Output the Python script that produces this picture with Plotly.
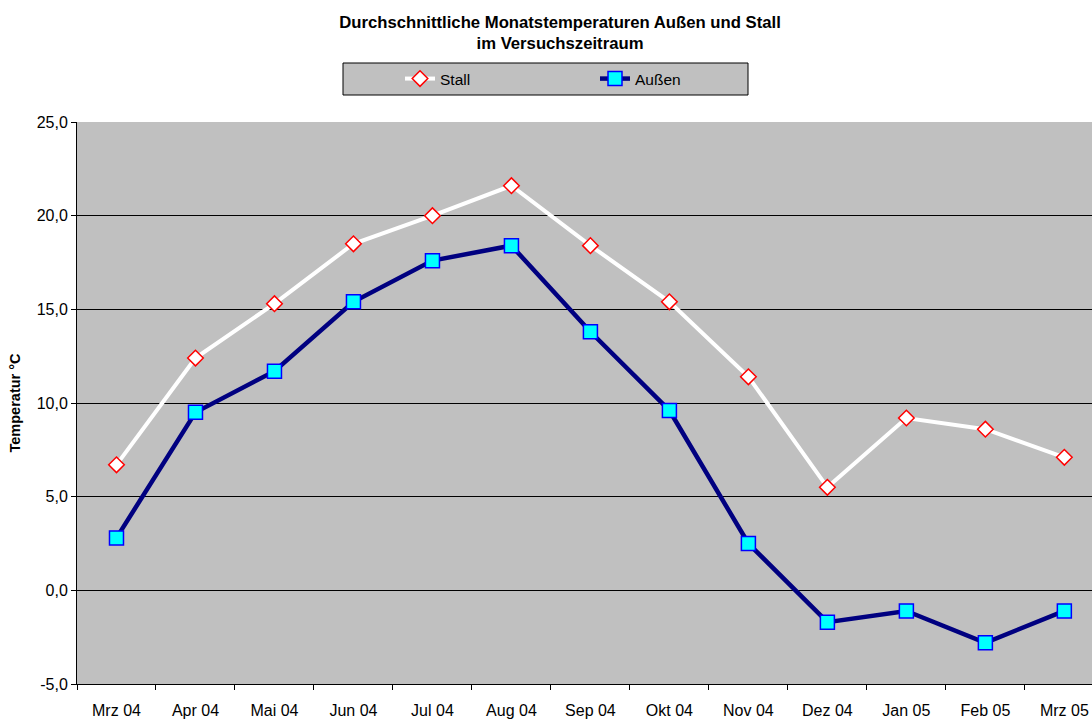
import plotly.graph_objects as go

months = ["Mrz 04", "Apr 04", "Mai 04", "Jun 04", "Jul 04", "Aug 04", "Sep 04",
          "Okt 04", "Nov 04", "Dez 04", "Jan 05", "Feb 05", "Mrz 05"]
stall = [6.7, 12.4, 15.3, 18.5, 20.0, 21.6, 18.4, 15.4, 11.4, 5.5, 9.2, 8.6, 7.1]
aussen = [2.8, 9.5, 11.7, 15.4, 17.6, 18.4, 13.8, 9.6, 2.5, -1.7, -1.1, -2.8, -1.1]
y_ticks = [-5, 0, 5, 10, 15, 20, 25]
y_labels = ["-5,0", "0,0", "5,0", "10,0", "15,0", "20,0", "25,0"]

W, H = 1092, 719
L, T, B = 77, 122, 35
PW, PH = W - L, H - T - B


def px_x(p):
    return (p - L) / PW


def px_y(p):
    return (H - B - p) / PH


FONT = "Arial, Liberation Sans, sans-serif"

fig = go.Figure()
fig.add_trace(go.Scatter(
    x=months, y=stall, name="Stall", mode="lines+markers",
    line=dict(color="white", width=4),
    marker=dict(symbol="diamond", size=12, color="white",
                line=dict(color="red", width=1.5)),
))
fig.add_trace(go.Scatter(
    x=months, y=aussen, name="Außen", mode="lines+markers",
    line=dict(color="#000080", width=4.5),
    marker=dict(symbol="square", size=14, color="#00FFFF",
                line=dict(color="#0000FF", width=1.5)),
))

fig.add_shape(type="rect", xref="paper", yref="paper",
              x0=px_x(343), x1=px_x(748), y0=px_y(95), y1=px_y(63),
              fillcolor="#C0C0C0", line=dict(color="black", width=1), layer="below")

fig.update_layout(
    width=W, height=H,
    margin=dict(l=L, r=0, t=T, b=B, autoexpand=False),
    paper_bgcolor="white", plot_bgcolor="#C0C0C0",
    separators=",.",
    font=dict(family=FONT, size=16, color="black"),
    title=dict(
        text="<b>Durchschnittliche Monatstemperaturen Außen und Stall<br>im Versuchszeitraum</b>",
        x=560 / W, xanchor="center", y=1 - 27.5 / H, yanchor="middle",
        font=dict(size=16.7, family=FONT),
    ),
    legend=dict(
        orientation="h", x=px_x(400), xanchor="left", y=px_y(79), yanchor="middle",
        bgcolor="rgba(0,0,0,0)", borderwidth=0,
        entrywidth=150, font=dict(size=15.5, family=FONT),
        itemwidth=30,
    ),
    xaxis=dict(
        type="category", range=[-0.5, 12.35], automargin=False,
        tickson="boundaries", ticks="outside", ticklen=5, tickcolor="black",
        showline=True, linecolor="black", linewidth=1, showgrid=False,
        ticklabelstandoff=12, tickfont=dict(size=16, family=FONT),
    ),
    yaxis=dict(
        range=[-5, 25], tickmode="array", tickvals=y_ticks, ticktext=y_labels,
        automargin=False,
        ticks="outside", ticklen=5, tickcolor="black",
        showline=True, linecolor="black", linewidth=1,
        showgrid=True, gridcolor="black", gridwidth=1,
        zeroline=False,
        title=dict(text="<b>Temperatur °C</b>", font=dict(size=14.5, family=FONT), standoff=12),
        tickfont=dict(size=16, family=FONT),
    ),
)

fig.write_html(
    "out.html",
    config={"displayModeBar": False},
    post_script="document.body.style.margin='0px';document.body.style.overflow='hidden';",
)
